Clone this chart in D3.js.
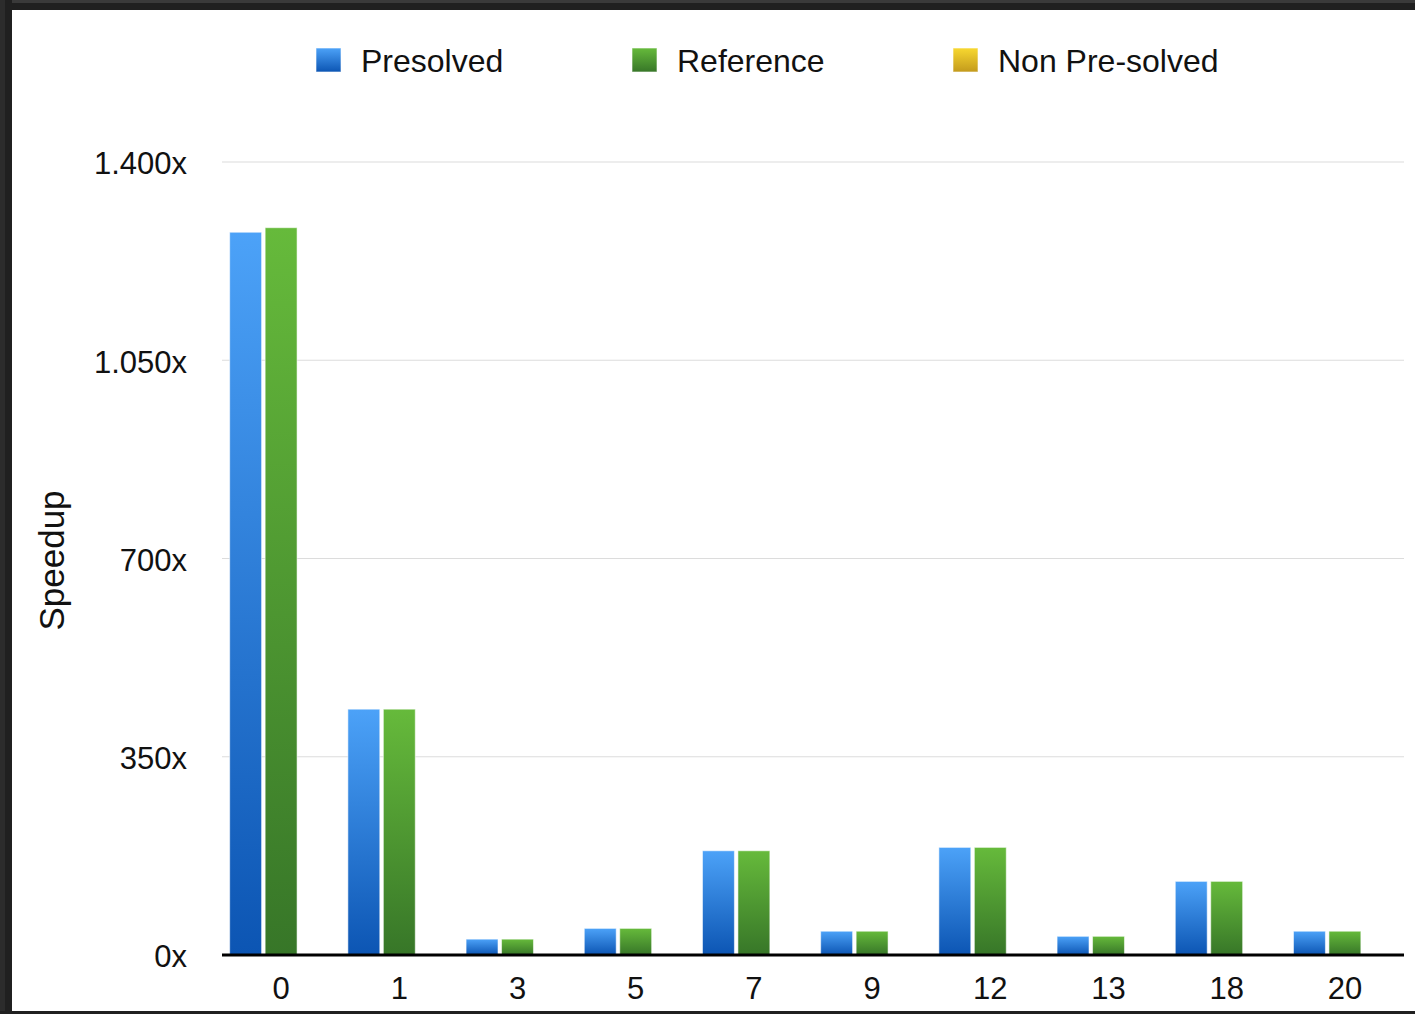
<!DOCTYPE html>
<html>
<head>
<meta charset="utf-8">
<script src="https://cdn.jsdelivr.net/npm/d3@7/dist/d3.min.js"></script>
<style>
  html, body { margin: 0; padding: 0; background: #fff; }
  svg { display: block; }
  text { font-family: "Liberation Sans", Arial, Helvetica, sans-serif; fill: #111; }
</style>
</head>
<body>
<svg id="chart" width="1415" height="1014"></svg>
<script>
// Benchmark instances on the x axis
const categories = ["0", "1", "3", "5", "7", "9", "12", "13", "18", "20"];
const seriesNames = ["Presolved", "Reference", "Non Pre-solved"];
// Speedup per instance for each configuration
const presolved    = [1276, 434, 28, 47, 184, 42, 190, 33, 130, 42];
const reference    = [1284, 434, 28, 47, 184, 42, 190, 33, 130, 42];
const nonPresolved = [0, 0, 0, 0, 0, 0, 0, 0, 0, 0];
const yTickValues = [0, 350, 700, 1050, 1400];
const yTickLabels = ["0x", "350x", "700x", "1.050x", "1.400x"];

const seriesValues = [presolved, reference, nonPresolved];
const palette = [
  { id: "gBlue",   top: "#4ca2f8", bottom: "#0c55b3" },
  { id: "gGreen",  top: "#66ba3b", bottom: "#377628" },
  { id: "gYellow", top: "#f8d830", bottom: "#c39a1c" }
];

const W = 1415, H = 1014;
const plot = { left: 222, right: 1404, top: 162, bottom: 955 };

const svg = d3.select("#chart");
const defs = svg.append("defs");
palette.forEach(p => {
  const g = defs.append("linearGradient").attr("id", p.id)
    .attr("x1", 0).attr("y1", 0).attr("x2", 0).attr("y2", 1);
  g.append("stop").attr("offset", "0%").attr("stop-color", p.top);
  g.append("stop").attr("offset", "100%").attr("stop-color", p.bottom);
});

const x0 = d3.scaleBand().domain(categories)
  .range([plot.left, plot.right]).paddingInner(0.1).paddingOuter(0.05);
const x1 = d3.scaleBand().domain(seriesNames)
  .range([0, x0.bandwidth()]).paddingInner(0.1).paddingOuter(0.05);
const y = d3.scaleLinear().domain([0, 1400]).range([plot.bottom, plot.top]);

// Horizontal grid lines
svg.append("g").selectAll("line")
  .data(yTickValues.filter(v => v > 0))
  .join("line")
  .attr("x1", plot.left).attr("x2", plot.right)
  .attr("y1", d => y(d)).attr("y2", d => y(d))
  .attr("stroke", "#dcdcdc").attr("stroke-width", 1.2);

// Y axis labels
const yAxis = d3.axisLeft(y)
  .tickValues(yTickValues)
  .tickFormat((d, i) => yTickLabels[i])
  .tickSize(0).tickPadding(35);
const gy = svg.append("g").attr("transform", `translate(${plot.left},0)`).call(yAxis);
gy.select(".domain").remove();
gy.selectAll("text")
  .style("font-size", "31px").style("font-family", "\"Liberation Sans\", Arial, sans-serif")
  .attr("fill", "#111").attr("dy", "0.38em");

// Bars for each series
const bars = svg.append("g");
categories.forEach((c, ci) => {
  seriesNames.forEach((s, si) => {
    const v = seriesValues[si][ci];
    if (v <= 0) return;
    bars.append("rect")
      .attr("x", x0(c) + x1(s))
      .attr("y", y(v))
      .attr("width", x1.bandwidth())
      .attr("height", y(0) - y(v))
      .attr("fill", `url(#${palette[si].id})`)
      .attr("stroke", "rgba(255,255,255,0.55)")
      .attr("stroke-width", 1);
  });
});

// X axis with heavy baseline
const xAxis = d3.axisBottom(x0).tickSize(0).tickPadding(22);
const gx = svg.append("g").attr("transform", `translate(0,${plot.bottom})`).call(xAxis);
gx.select(".domain").attr("stroke", "#000").attr("stroke-width", 3)
  .attr("d", `M${plot.left},0H${plot.right}`);
gx.selectAll("text")
  .style("font-size", "31px").style("font-family", "\"Liberation Sans\", Arial, sans-serif")
  .attr("fill", "#111");

// Y axis title
svg.append("text")
  .attr("transform", `translate(64,${(plot.top + plot.bottom) / 2 + 2}) rotate(-90)`)
  .attr("text-anchor", "middle")
  .style("font-size", "35px")
  .text("Speedup");

// Legend
const legendX = [316, 632, 953];
const legend = svg.append("g");
seriesNames.forEach((s, i) => {
  const g = legend.append("g").attr("transform", `translate(${legendX[i]},48)`);
  g.append("rect").attr("width", 25).attr("height", 24)
    .attr("fill", `url(#${palette[i].id})`)
    .attr("stroke", "rgba(255,255,255,0.6)").attr("stroke-width", 1);
  g.append("text").attr("x", 45).attr("y", 24)
    .style("font-size", "32px")
    .text(s);
});

// Dark window frame on the left, top and bottom
svg.append("rect").attr("x", 0).attr("y", 0).attr("width", W).attr("height", 10).attr("fill", "#202020");
svg.append("rect").attr("x", 0).attr("y", 0).attr("width", W).attr("height", 3).attr("fill", "#3a3a3a");
svg.append("rect").attr("x", 0).attr("y", 0).attr("width", 12).attr("height", H).attr("fill", "#202020");
svg.append("rect").attr("x", 0).attr("y", 0).attr("width", 5).attr("height", H).attr("fill", "#2c2c2c");
svg.append("rect").attr("x", 0).attr("y", 1011).attr("width", W).attr("height", 3).attr("fill", "#202020");
</script>
</body>
</html>
